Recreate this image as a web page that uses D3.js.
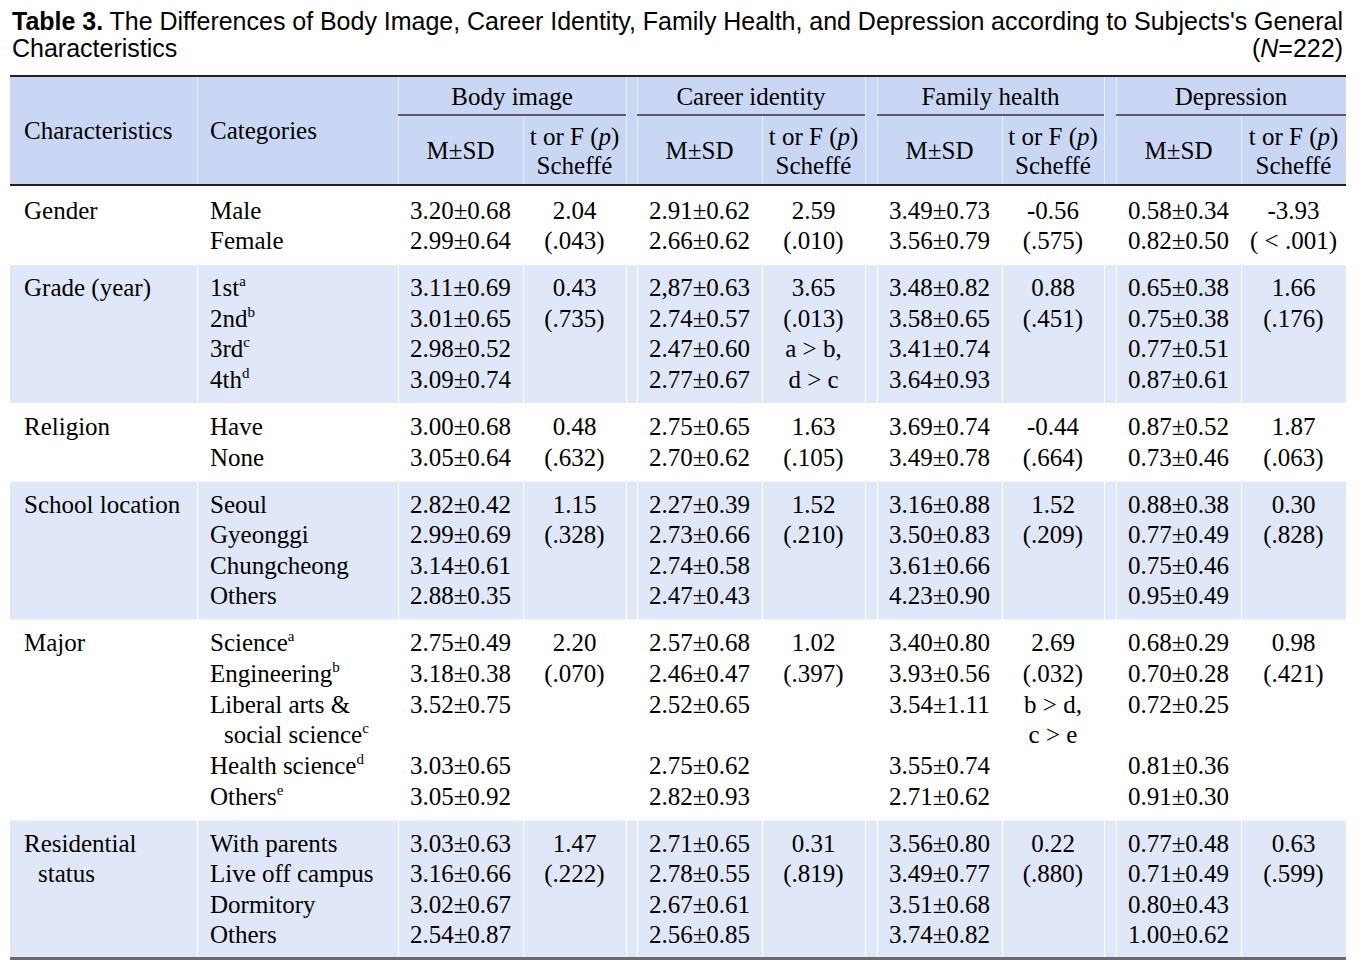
<!DOCTYPE html>
<html><head><meta charset="utf-8">
<script src="https://cdn.jsdelivr.net/npm/d3@7"></script>
<style>body{margin:0;background:#fff;} svg{display:block}</style>
</head><body>
<svg id="c" width="1366" height="961"></svg>
<script>
// ---------- DATA ----------
const titleBold = "Table 3.";
const titleRest = " The Differences of Body Image, Career Identity, Family Health, and Depression according to Subjects's General";
const titleLine2 = "Characteristics";
const sampleN = "222";

const characteristics = [["Gender"],["Grade (year)"],["Religion"],["School location"],["Major"],["Residential","status"]];
const categories = [
  ["Male","Female"],
  ["1st^a","2nd^b","3rd^c","4th^d"],
  ["Have","None"],
  ["Seoul","Gyeonggi","Chungcheong","Others"],
  ["Science^a","Engineering^b","Liberal arts &|social science^c","Health science^d","Others^e"],
  ["With parents","Live off campus","Dormitory","Others"]
];
const measures = ["Body image","Career identity","Family health","Depression"];

const bodyImage = ["3.20±0.68","2.99±0.64","3.11±0.69","3.01±0.65","2.98±0.52","3.09±0.74","3.00±0.68","3.05±0.64","2.82±0.42","2.99±0.69","3.14±0.61","2.88±0.35","2.75±0.49","3.18±0.38","3.52±0.75","3.03±0.65","3.05±0.92","3.03±0.63","3.16±0.66","3.02±0.67","2.54±0.87"];
const careerIdentity = ["2.91±0.62","2.66±0.62","2,87±0.63","2.74±0.57","2.47±0.60","2.77±0.67","2.75±0.65","2.70±0.62","2.27±0.39","2.73±0.66","2.74±0.58","2.47±0.43","2.57±0.68","2.46±0.47","2.52±0.65","2.75±0.62","2.82±0.93","2.71±0.65","2.78±0.55","2.67±0.61","2.56±0.85"];
const familyHealth = ["3.49±0.73","3.56±0.79","3.48±0.82","3.58±0.65","3.41±0.74","3.64±0.93","3.69±0.74","3.49±0.78","3.16±0.88","3.50±0.83","3.61±0.66","4.23±0.90","3.40±0.80","3.93±0.56","3.54±1.11","3.55±0.74","2.71±0.62","3.56±0.80","3.49±0.77","3.51±0.68","3.74±0.82"];
const depression = ["0.58±0.34","0.82±0.50","0.65±0.38","0.75±0.38","0.77±0.51","0.87±0.61","0.87±0.52","0.73±0.46","0.88±0.38","0.77±0.49","0.75±0.46","0.95±0.49","0.68±0.29","0.70±0.28","0.72±0.25","0.81±0.36","0.91±0.30","0.77±0.48","0.71±0.49","0.80±0.43","1.00±0.62"];

const bodyTest = [["2.04","(.043)"],["0.43","(.735)"],["0.48","(.632)"],["1.15","(.328)"],["2.20","(.070)"],["1.47","(.222)"]];
const careerTest = [["2.59","(.010)"],["3.65","(.013)","a > b,","d > c"],["1.63","(.105)"],["1.52","(.210)"],["1.02","(.397)"],["0.31","(.819)"]];
const familyTest = [["-0.56","(.575)"],["0.88","(.451)"],["-0.44","(.664)"],["1.52","(.209)"],["2.69","(.032)","b > d,","c > e"],["0.22","(.880)"]];
const depressionTest = [["-3.93","( < .001)"],["1.66","(.176)"],["1.87","(.063)"],["0.30","(.828)"],["0.98","(.421)"],["0.63","(.599)"]];

// ---------- LAYOUT ----------
const msdSeries = [bodyImage, careerIdentity, familyHealth, depression];
const testSeries = [bodyTest, careerTest, familyTest, depressionTest];

const svg = d3.select("#c");
const serif = "'Liberation Serif','Times New Roman',serif";
const sans = "'Liberation Sans',Arial,sans-serif";
const FS = 25;
const TFS = 25;
const headerBg = "#c9d7f5", rowBg = "#dfe7f8";
const tableL = 10, tableR = 1346;

// column edges
const colEdges = [tableL,197,398,523,626,637,762,865,877,1002,1104,1116,1241,tableR];
const x = d3.scaleOrdinal().domain(d3.range(colEdges.length)).range(colEdges);
const colMid = i => (x(i) + x(i+1)) / 2;

let gl = 0;
const groupLines = categories.map((cats, g) => {
  let n = 0;
  cats.forEach(c => n += c.split("|").length);
  const start = gl; gl += n;
  return {start, n};
});
const lineStep = 30.62, groupExtra = 16.38;
const yLine = d3.scaleLinear().domain([0,1]).range([210, 210 + lineStep]);
const yc = (g, k) => yLine(groupLines[g].start + k) + g * groupExtra;
const BASE = 8.5;

// ---------- TITLE ----------
const t1 = svg.append("text").attr("x", 12).attr("y", 30)
  .attr("font-family", sans).attr("font-size", TFS).attr("fill", "#000");
t1.append("tspan").attr("font-weight", "bold").text(titleBold);
t1.append("tspan").text(titleRest);
const natural = t1.node().getComputedTextLength();
const spaces = (titleBold + titleRest).split(" ").length - 1;
t1.attr("word-spacing", (1343 - 12 - natural) / spaces);

svg.append("text").attr("x", 12).attr("y", 57)
  .attr("font-family", sans).attr("font-size", TFS).text(titleLine2);
const nt = svg.append("text").attr("x", 1343).attr("y", 57).attr("text-anchor", "end")
  .attr("font-family", sans).attr("font-size", TFS);
nt.append("tspan").text("(");
nt.append("tspan").attr("font-style", "italic").text("N");
nt.append("tspan").text("=" + sampleN + ")");

// ---------- HEADER ----------
const hTop = 76, hMid = 115, hBot = 185;
svg.append("rect").attr("x", tableL).attr("y", hTop).attr("width", tableR - tableL).attr("height", hBot - hTop).attr("fill", headerBg);
[1,2,4,5,7,8,10,11].forEach(i => {
  svg.append("line").attr("x1", x(i)+0.5).attr("x2", x(i)+0.5).attr("y1", hTop).attr("y2", hBot)
    .attr("stroke", "#e4ebfb").attr("stroke-width", 1);
});
[3,6,9,12].forEach(i => {
  svg.append("line").attr("x1", x(i)+0.5).attr("x2", x(i)+0.5).attr("y1", hMid).attr("y2", hBot)
    .attr("stroke", "#e4ebfb").attr("stroke-width", 1);
});
svg.append("line").attr("x1", tableL).attr("x2", tableR).attr("y1", hTop).attr("y2", hTop).attr("stroke", "#222").attr("stroke-width", 2);
svg.append("line").attr("x1", tableL).attr("x2", tableR).attr("y1", hBot).attr("y2", hBot).attr("stroke", "#222").attr("stroke-width", 2);

svg.append("text").attr("x", 24).attr("y", 139).attr("font-family", serif).attr("font-size", FS).text("Characteristics");
svg.append("text").attr("x", 210).attr("y", 139).attr("font-family", serif).attr("font-size", FS).text("Categories");

measures.forEach((m, j) => {
  const a = 2 + 3*j, b = 4 + 3*j;
  svg.append("line").attr("x1", x(a)).attr("x2", x(b)).attr("y1", hMid).attr("y2", hMid)
    .attr("stroke", "#333").attr("stroke-width", 1.5);
  svg.append("text").attr("x", (x(a) + x(b)) / 2).attr("y", 105).attr("text-anchor", "middle")
    .attr("font-family", serif).attr("font-size", FS).text(m);
  svg.append("text").attr("x", colMid(a)).attr("y", 159).attr("text-anchor", "middle")
    .attr("font-family", serif).attr("font-size", FS).text("M±SD");
  const tt = svg.append("text").attr("x", colMid(a+1)).attr("y", 145).attr("text-anchor", "middle")
    .attr("font-family", serif).attr("font-size", FS);
  tt.append("tspan").text("t or F (");
  tt.append("tspan").attr("font-style", "italic").text("p");
  tt.append("tspan").text(")");
  svg.append("text").attr("x", colMid(a+1)).attr("y", 174).attr("text-anchor", "middle")
    .attr("font-family", serif).attr("font-size", FS).text("Scheffé");
});

// ---------- BODY ----------
function addText(sel, str) {
  const parts = str.split("^");
  sel.append("tspan").text(parts[0]);
  if (parts[1]) sel.append("tspan").attr("font-size", 15).attr("dy", -10).text(parts[1]);
}

let valueIdx = 0;
categories.forEach((cats, g) => {
  const gl0 = groupLines[g];
  const top = yc(g, 0) - 23.5, bot = yc(g, gl0.n - 1) + 23.5;
  if (g % 2 === 1) {
    for (let i = 0; i < colEdges.length - 1; i++) {
      const x0 = x(i) + (i === 0 ? 0 : 1);
      svg.append("rect").attr("x", x0).attr("y", top + 1).attr("width", x(i+1) - x0).attr("height", bot - top - 1)
        .attr("fill", rowBg);
    }
  }
  characteristics[g].forEach((c, k) => {
    svg.append("text").attr("x", k === 0 ? 24 : 38).attr("y", yc(g, k) + BASE)
      .attr("font-family", serif).attr("font-size", FS).text(c);
  });
  let k = 0;
  cats.forEach(cat => {
    const sub = cat.split("|");
    sub.forEach((s, si) => {
      const t = svg.append("text").attr("x", si === 0 ? 210 : 224).attr("y", yc(g, k + si) + BASE)
        .attr("font-family", serif).attr("font-size", FS);
      addText(t, s);
    });
    msdSeries.forEach((ser, j) => {
      svg.append("text").attr("x", colMid(2 + 3*j)).attr("y", yc(g, k) + BASE).attr("text-anchor", "middle")
        .attr("font-family", serif).attr("font-size", FS).text(ser[valueIdx]);
    });
    valueIdx++;
    k += sub.length;
  });
  testSeries.forEach((ser, j) => {
    ser[g].forEach((s, li) => {
      svg.append("text").attr("x", colMid(3 + 3*j)).attr("y", yc(g, li) + BASE).attr("text-anchor", "middle")
        .attr("font-family", serif).attr("font-size", FS).text(s);
    });
  });
});

const lastBot = yc(5, groupLines[5].n - 1) + 23.5;
svg.append("line").attr("x1", tableL).attr("x2", tableR).attr("y1", lastBot).attr("y2", lastBot)
  .attr("stroke", "#6b6b6b").attr("stroke-width", 3);
</script>
</body></html>
